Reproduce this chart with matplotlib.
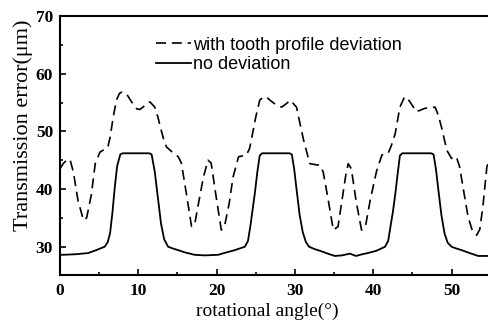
import matplotlib
matplotlib.use("Agg")
import matplotlib.pyplot as plt
from matplotlib.ticker import MultipleLocator

# rotational angle (deg) and transmission error (um)
angle_dev = [0.0, 0.4, 1.0, 1.3, 1.7, 2.3, 3.0, 3.4, 4.0, 4.5, 5.1, 5.7, 6.1, 6.4, 6.8, 7.2, 7.6, 7.9,
             8.5, 9.1, 9.8, 10.2, 10.6, 11.1, 11.5, 12.1, 12.5, 12.8, 13.2, 13.6, 14.5, 15.1, 15.5,
             16.1, 16.8, 17.2, 17.6, 18.3, 18.9, 19.3, 19.9, 20.6, 21.0, 21.6, 22.1, 22.8, 23.8,
             24.2, 24.5, 25.0, 25.5, 26.0, 26.4, 26.9, 27.4, 28.3, 28.9, 29.4, 30.2, 30.7, 31.1,
             31.9, 33.2, 33.6, 34.2, 34.9, 35.5, 36.0, 36.5, 36.8, 37.2, 37.8, 38.5, 39.0, 39.6,
             40.4, 41.1, 41.9, 42.3, 42.8, 43.4, 44.0, 44.6, 45.5, 46.6, 47.9, 48.3, 48.7, 49.4,
             50.0, 50.6, 51.0, 51.5, 52.1, 52.6, 53.2, 53.6, 54.0, 54.5, 54.7]
te_dev = [43.5, 44.4, 45.2, 45.0, 43.0, 38.0, 34.6, 35.0, 39.0, 44.4, 46.4, 46.9, 47.2, 49.0, 52.5, 55.4,
          56.6, 56.8, 56.5, 55.2, 53.9, 53.8, 54.2, 54.9, 55.1, 54.2, 52.5, 50.8, 48.8, 47.3, 46.2,
          45.6, 44.5, 39.5, 33.5, 33.9, 36.9, 42.0, 45.0, 44.5, 39.0, 32.9, 33.5, 37.5, 42.1, 45.6,
          45.9, 47.0, 49.0, 52.5, 55.4, 56.0, 55.9, 55.3, 54.8, 54.2, 54.8, 55.4, 54.2, 51.0, 48.5,
          44.4, 44.1, 43.0, 38.5, 32.9, 33.5, 38.0, 42.5, 44.4, 43.5, 38.0, 32.9, 33.5, 38.0,
          43.0, 45.9, 46.2, 47.5, 49.6, 54.2, 56.0, 55.3, 53.4, 54.0, 54.2, 52.8, 50.8, 46.7,
          45.3, 45.6, 44.0, 40.0, 35.2, 33.0, 32.0, 33.0, 37.0, 43.8, 44.6]

angle_nodev = [0.0, 0.4, 2.0, 3.6, 4.6, 5.7, 6.1, 6.4, 6.7, 7.0, 7.3, 7.7, 8.0, 11.4, 11.7, 12.1, 12.5,
               12.9, 13.3, 13.8, 14.4, 15.1, 16.0, 17.2, 18.5, 20.2, 21.2, 22.3, 23.6, 24.0, 24.3,
               24.6, 24.9, 25.2, 25.5, 25.8, 29.3, 29.6, 29.9, 30.2, 30.6, 31.0, 31.4, 31.8, 32.5,
               33.4, 34.2, 35.1, 36.0, 37.0, 37.8, 38.6, 39.3, 40.4, 41.5, 41.9, 42.2, 42.5, 42.8,
               43.1, 43.4, 43.7, 47.4, 47.7, 48.0, 48.3, 48.7, 49.1, 49.5, 50.0, 50.6, 51.3, 52.3,
               53.4, 54.7]
te_nodev = [28.6, 28.6, 28.7, 28.9, 29.4, 30.0, 30.8, 32.4, 36.0, 40.4, 44.0, 46.0, 46.2, 46.2, 46.0,
            43.0, 38.5, 34.0, 31.3, 30.0, 29.7, 29.4, 29.0, 28.6, 28.5, 28.6, 29.0, 29.4, 30.0,
            31.0, 33.5, 36.5, 39.5, 43.0, 45.8, 46.2, 46.2, 46.0, 43.5, 40.0, 35.5, 32.5, 30.8,
            30.0, 29.6, 29.2, 28.8, 28.4, 28.5, 28.8, 28.4, 28.7, 28.9, 29.3, 30.0, 31.0, 33.5,
            36.0, 39.0, 42.5, 45.8, 46.2, 46.2, 46.0, 43.5, 40.0, 35.5, 32.3, 30.7, 30.0, 29.7,
            29.4, 28.9, 28.4, 28.4]

label_dev = "with tooth profile deviation"
label_nodev = "no deviation"

fig = plt.figure(figsize=(4.88, 3.23), dpi=100)
ax = fig.add_axes([60 / 488, 1 - 275 / 323, 1 - 60 / 488, (275 - 16) / 323])

ax.plot(angle_dev, te_dev, color="black", lw=1.2, linestyle=(0, (6, 3.5)), label=label_dev)
ax.plot(angle_nodev, te_nodev, color="black", lw=1.3, linestyle="-", label=label_nodev)

ax.set_xlim(0, 54.65)
ax.set_ylim(25.1, 70)
ax.xaxis.set_major_locator(MultipleLocator(10))
ax.xaxis.set_minor_locator(MultipleLocator(5))
ax.yaxis.set_major_locator(MultipleLocator(10))
ax.yaxis.set_minor_locator(MultipleLocator(5))
ax.tick_params(which="both", direction="in", width=1.2, top=False, right=False)
ax.tick_params(which="major", length=4)
ax.tick_params(which="minor", length=2.5)
ax.tick_params(axis="x", pad=6)
ax.tick_params(axis="y", pad=5)
for s in ["left", "bottom", "top"]:
    ax.spines[s].set_linewidth(1.5)
ax.spines["right"].set_visible(False)

for lab in ax.get_xticklabels() + ax.get_yticklabels():
    lab.set_family("Liberation Serif")
    lab.set_fontweight("bold")
    lab.set_fontsize(12.5)

ax.set_xlabel("rotational angle(°)", family="Liberation Serif", fontsize=14)
ax.set_ylabel("Transmission error(μm)", family="Liberation Serif", fontsize=16)
ax.xaxis.set_label_coords(0.484, -0.105)
ax.yaxis.set_label_coords(-0.063, 0.578)

leg = ax.legend(loc="upper left", bbox_to_anchor=(0.2, 0.962), frameon=False,
                prop={"family": "Liberation Sans", "size": 13}, handlelength=1.9,
                handletextpad=0.15, labelspacing=0.15, borderaxespad=0.2)

fig.savefig("out.png", dpi=100)
